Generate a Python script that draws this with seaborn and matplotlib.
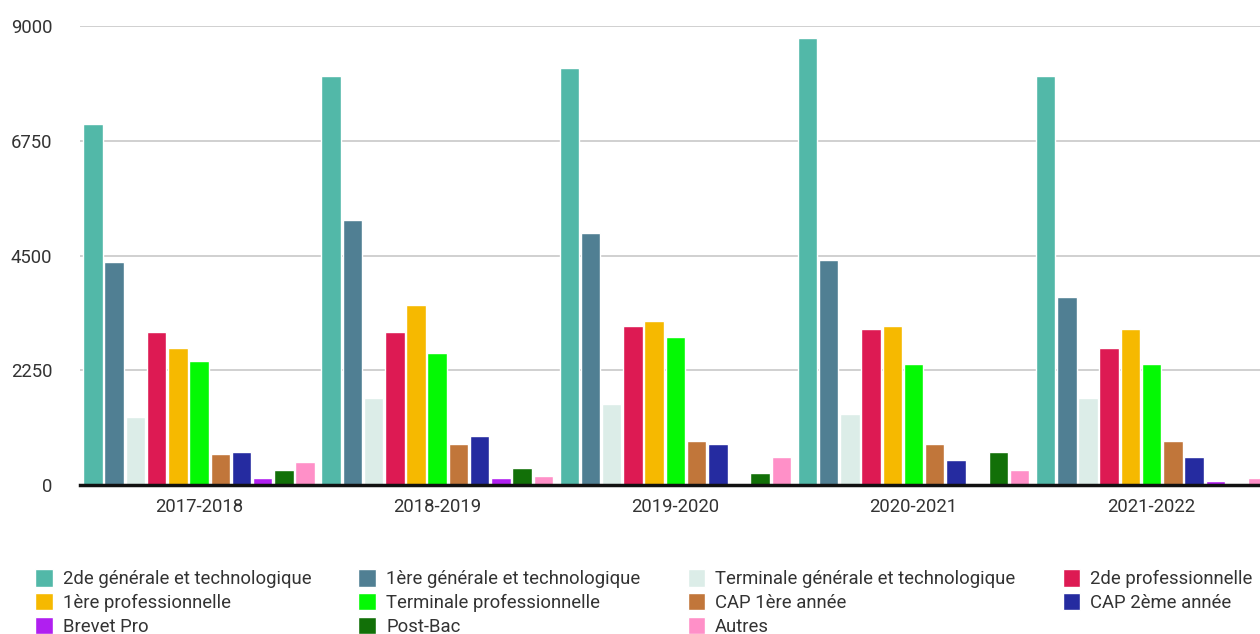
import numpy as np
import pandas as pd
import matplotlib
matplotlib.use("Agg")
import matplotlib.pyplot as plt
import seaborn as sns

years = ["2017-2018", "2018-2019", "2019-2020", "2020-2021", "2021-2022"]

series_names = [
    "2de générale et technologique",
    "1ère générale et technologique",
    "Terminale générale et technologique",
    "2de professionnelle",
    "1ère professionnelle",
    "Terminale professionnelle",
    "CAP 1ère année",
    "CAP 2ème année",
    "Brevet Pro",
    "Post-Bac",
    "Autres",
]

seconde_gt = [7080, 8025, 8180, 8770, 8025]
premiere_gt = [4375, 5200, 4945, 4415, 3690]
terminale_gt = [1335, 1705, 1590, 1395, 1705]
seconde_pro = [3000, 3000, 3120, 3060, 2690]
premiere_pro = [2690, 3530, 3220, 3120, 3060]
terminale_pro = [2430, 2590, 2905, 2375, 2375]
cap1 = [610, 805, 865, 805, 865]
cap2 = [650, 960, 805, 490, 550]
brevet_pro = [135, 135, 0, 0, 80]
post_bac = [295, 335, 235, 650, 0]
autres = [450, 175, 550, 295, 135]

colors = ["#52b8a8", "#507f93", "#dcede8", "#dd1a53", "#f6b900", "#04f904",
          "#c1763a", "#252ba0", "#b01ff0", "#127008", "#ff90c8"]

all_series = [seconde_gt, premiere_gt, terminale_gt, seconde_pro, premiere_pro,
              terminale_pro, cap1, cap2, brevet_pro, post_bac, autres]

rows = []
for name, vals in zip(series_names, all_series):
    for y, v in zip(years, vals):
        rows.append({"Année": y, "Niveau": name, "Effectif": v})
df = pd.DataFrame(rows)

sns.set_theme(style="white")
plt.rcParams["font.family"] = ["Roboto", "DejaVu Sans"]
plt.rcParams["font.weight"] = "normal"

W, H = 1260, 634
fig = plt.figure(figsize=(W / 100, H / 100), dpi=100)
ax = fig.add_axes([80 / W, 1 - 485 / H, 1 - 80 / W, (485 - 26.3) / H])

sns.barplot(data=df, x="Année", y="Effectif", hue="Niveau",
            hue_order=series_names, palette=colors, order=years,
            width=0.98, gap=0.08, saturation=1, ax=ax, legend=True)

ax.set_xlim(-0.5, 4.455)
ax.set_ylim(0, 9000)
ax.set_yticks([0, 2250, 4500, 6750, 9000])
ax.set_yticklabels(["0", "2250", "4500", "6750", "9000"])
ax.set_xlabel("")
ax.set_ylabel("")
ax.grid(axis="y", color="#c8c8c8", linewidth=1.2)
ax.grid(axis="x", visible=False)
ax.set_axisbelow(True)
for s in ["top", "right", "left"]:
    ax.spines[s].set_visible(False)
ax.spines["bottom"].set_color("#111111")
ax.spines["bottom"].set_linewidth(2.5)
ax.spines["bottom"].set_zorder(5)
ax.tick_params(axis="both", length=0, labelsize=13.3, colors="#333333")
ax.tick_params(axis="y", pad=20)
ax.tick_params(axis="x", pad=9.5)

handles, labels = ax.get_legend_handles_labels()
ax.get_legend().remove()
order = [0, 4, 8, 1, 5, 9, 2, 6, 10, 3, 7]
fig.legend([handles[i] for i in order], [labels[i] for i in order],
           loc="upper left", bbox_to_anchor=(35 / W, 1 - 569 / H), ncol=4,
           frameon=False, borderpad=0, borderaxespad=0,
           fontsize=13.3, handlelength=0.95, handleheight=1.1,
           handletextpad=0.55, columnspacing=2.55, labelspacing=0.25,
           labelcolor="#333333")

fig.savefig("out.png", dpi=100)
